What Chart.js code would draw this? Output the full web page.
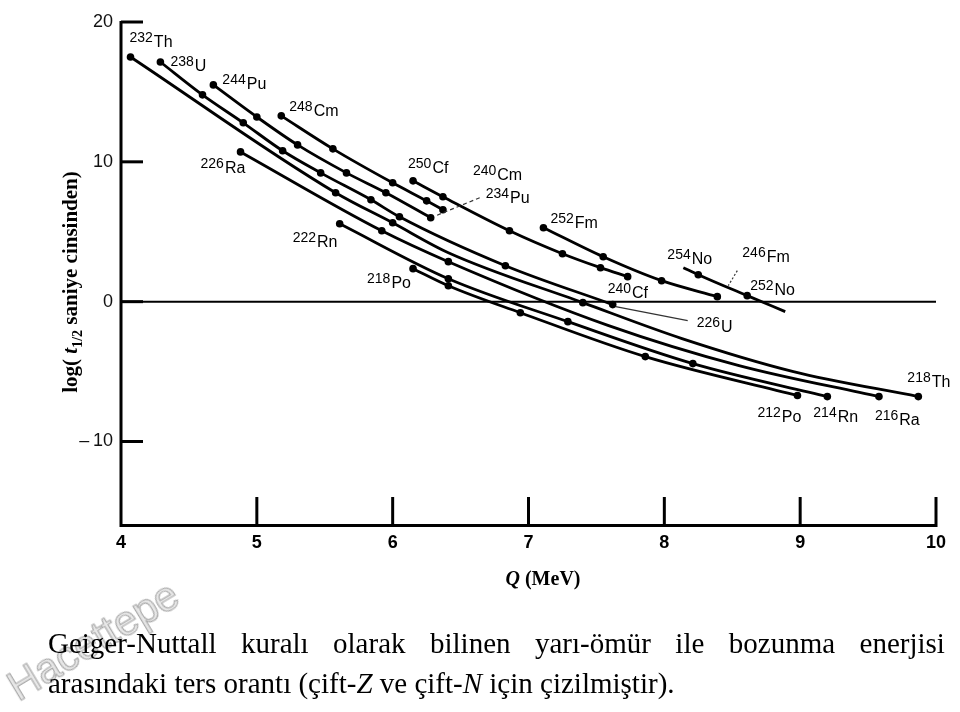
<!DOCTYPE html>
<html><head><meta charset="utf-8">
<script src="https://cdn.jsdelivr.net/npm/chart.js@4.4.0/dist/chart.umd.min.js"></script>
<style>
html,body{margin:0;padding:0;background:#fff;}
#wrap{position:relative;width:960px;height:712px;overflow:hidden;background:#fff;}
#c{position:absolute;left:0;top:0;}
#wm{position:absolute;left:22px;top:666px;font-family:"Liberation Sans",Arial,sans-serif;font-size:42px;line-height:42px;color:#e8e8e8;-webkit-text-stroke:1.2px #aaaaaa;transform:rotate(-31deg);transform-origin:0 100%;white-space:nowrap;}
.cap{position:absolute;left:48px;width:897px;font-family:"Liberation Serif","Times New Roman",serif;font-size:29px;line-height:29px;color:#000;white-space:nowrap;}
#l1{display:flex;justify-content:space-between;}
</style></head><body>
<div id="wrap">
<canvas id="c" width="960" height="600"></canvas>
<div id="wm">Hacettepe</div>
<div class="cap" id="l1" style="top:629px;"></div>
<div class="cap" id="l2" style="top:669px;">arasındaki ters orantı (çift-<i>Z</i> ve çift-<i>N</i> için çizilmiştir).</div>
</div>
<script>
// ---- data (Q in MeV, log10 of half-life in seconds) ----
const thQ   = [4.07, 5.58, 6.00, 6.41, 7.40, 8.13, 8.95, 9.87];
const thLog = [17.5, 7.79, 5.64, 3.5, -0.07, -2.64, -5.0, -6.79];
const uQ    = [4.29, 4.60, 4.90, 5.19, 5.47, 5.84, 6.05, 6.83, 7.62];
const uLog  = [17.14, 14.79, 12.79, 10.79, 9.21, 7.29, 6.07, 2.57, -0.21];
const puQ   = [4.68, 5.00, 5.30, 5.66, 5.95, 6.28];
const puLog = [15.5, 13.21, 11.21, 9.21, 7.79, 6.0];
const cmQ   = [5.18, 5.56, 6.00, 6.25, 6.37];
const cmLog = [13.29, 10.93, 8.5, 7.21, 6.57];
const cfQ   = [6.15, 6.37, 6.86, 7.25, 7.53, 7.73];
const cfLog = [8.64, 7.5, 5.07, 3.43, 2.43, 1.79];
const fmQ   = [7.11, 7.55, 7.98, 8.39];
const fmLog = [5.29, 3.21, 1.5, 0.36];
const noQ   = [8.14, 8.25, 8.61, 8.89];
const noLog = [2.43, 1.93, 0.43, -0.71];
const raQ   = [4.88, 5.92, 6.41, 7.59, 8.55, 9.58];
const raLog = [10.71, 5.07, 2.86, -1.71, -4.57, -6.79];
const rnQ   = [5.61, 6.41, 7.29, 8.21, 9.20];
const rnLog = [5.57, 1.64, -1.43, -4.43, -6.79];
const poQ   = [6.15, 6.41, 6.94, 7.86, 8.98];
const poLog = [2.36, 1.14, -0.79, -3.93, -6.71];

const xTicks = [4, 5, 6, 7, 8, 9, 10];
const yTicks = [-10, 0, 10, 20];

const caption1 = ["Geiger-Nuttall","kuralı","olarak","bilinen","yarı-ömür","ile","bozunma","enerjisi"];

// ---- styles / layout (not data) ----
const seriesList = [
  ['Th', thQ, thLog], ['U', uQ, uLog], ['Pu', puQ, puLog], ['Cm', cmQ, cmLog],
  ['Cf', cfQ, cfLog], ['Fm', fmQ, fmLog], ['No', noQ, noLog], ['Ra', raQ, raLog],
  ['Rn', rnQ, rnLog], ['Po', poQ, poLog]
];
const undotted = { Th: [3, 5, 6], No: [0, 3], Ra: [3, 4] };

const isoLabels = [
  {s:'Th', i:0,  mass:'232', sym:'Th', dx:-1,  dy:-10},
  {s:'U',  i:0,  mass:'238', sym:'U',  dx:10,  dy:9},
  {s:'Pu', i:0,  mass:'244', sym:'Pu', dx:9,   dy:4},
  {s:'Cm', i:0,  mass:'248', sym:'Cm', dx:8,   dy:0},
  {s:'Ra', i:0,  mass:'226', sym:'Ra', dx:-40, dy:21},
  {s:'Cf', i:0,  mass:'250', sym:'Cf', dx:-5,  dy:-8},
  {s:'Cm', i:-1, mass:'240', sym:'Cm', dx:30,  dy:-30},
  {s:'Pu', i:-1, mass:'234', sym:'Pu', dx:55,  dy:-15, ptr:[[49,-20],[5,-2]], dash:[4,3]},
  {s:'Rn', i:0,  mass:'222', sym:'Rn', dx:-47, dy:23},
  {s:'Po', i:0,  mass:'218', sym:'Po', dx:-46, dy:19},
  {s:'Fm', i:0,  mass:'252', sym:'Fm', dx:7,   dy:0},
  {s:'No', i:0,  mass:'254', sym:'No', dx:-16, dy:-4},
  {s:'Fm', i:-1, mass:'246', sym:'Fm', dx:25,  dy:-35, ptr:[[20,-26],[11,-11]], dash:[2,2]},
  {s:'No', i:2,  mass:'252', sym:'No', dx:3,   dy:-1},
  {s:'Cf', i:-1, mass:'240', sym:'Cf', dx:-20, dy:21},
  {s:'U',  i:-1, mass:'226', sym:'U',  dx:84,  dy:27, ptr:[[75,16],[3,2]], dash:[]},
  {s:'Th', i:-1, mass:'218', sym:'Th', dx:-11, dy:-10},
  {s:'Po', i:-1, mass:'212', sym:'Po', dx:-40, dy:27},
  {s:'Rn', i:-1, mass:'214', sym:'Rn', dx:-14, dy:25},
  {s:'Ra', i:-1, mass:'216', sym:'Ra', dx:-4,  dy:28}
];

// caption line 1 (justified words)
const l1 = document.getElementById('l1');
caption1.forEach(w => { const sp = document.createElement('span'); sp.textContent = w; l1.appendChild(sp); });

const datasets = seriesList.map(([name, qs, ls]) => ({
  label: name,
  data: qs.map((q, k) => ({x: q, y: ls[k]})),
  showLine: true,
  borderColor: '#000',
  borderWidth: 2.8,
  backgroundColor: '#000',
  pointBackgroundColor: '#000',
  pointBorderWidth: 0,
  pointRadius: ctx => (undotted[name] || []).includes(ctx.dataIndex) ? 0 : 3.8,
  cubicInterpolationMode: 'monotone',
  clip: false
}));

const frame = {
  id: 'frame',
  beforeDatasetsDraw(chart) {
    const {ctx, chartArea: a, scales: {x, y}} = chart;
    ctx.save();
    ctx.strokeStyle = '#000';
    ctx.lineCap = 'butt';
    ctx.lineWidth = 2;
    const y0 = y.getPixelForValue(0);
    ctx.beginPath(); ctx.moveTo(a.left, y0); ctx.lineTo(a.right, y0); ctx.stroke();
    ctx.lineWidth = 3;
    ctx.beginPath();
    ctx.moveTo(a.left, y.getPixelForValue(20) - 1);
    ctx.lineTo(a.left, a.bottom + 1.5);
    ctx.lineTo(a.right + 1.5, a.bottom + 1.5);
    ctx.stroke();
    yTicks.forEach(v => {
      const py = y.getPixelForValue(v);
      ctx.beginPath(); ctx.moveTo(a.left, py); ctx.lineTo(a.left + 22, py); ctx.stroke();
    });
    xTicks.slice(1).forEach(v => {
      const px = x.getPixelForValue(v);
      ctx.beginPath(); ctx.moveTo(px, a.bottom); ctx.lineTo(px, a.bottom - 27); ctx.stroke();
    });
    ctx.restore();
  },
  afterDatasetsDraw(chart) {
    const {ctx} = chart;
    const idx = Object.fromEntries(seriesList.map((s, k) => [s[0], k]));
    ctx.save();
    ctx.fillStyle = '#000';
    ctx.textBaseline = 'alphabetic';
    isoLabels.forEach(l => {
      const meta = chart.getDatasetMeta(idx[l.s]);
      const pts = meta.data;
      const p = pts[l.i < 0 ? pts.length + l.i : l.i];
      const bx = p.x + l.dx, by = p.y + l.dy;
      ctx.font = '14px "Liberation Sans", Arial, sans-serif';
      ctx.fillText(l.mass, bx, by - 5);
      const w = ctx.measureText(l.mass).width;
      ctx.font = '16px "Liberation Sans", Arial, sans-serif';
      ctx.fillText(l.sym, bx + w + 1, by);
      if (l.ptr) {
        ctx.save();
        ctx.strokeStyle = '#333';
        ctx.lineWidth = 1.2;
        ctx.setLineDash(l.dash);
        ctx.beginPath();
        ctx.moveTo(p.x + l.ptr[0][0], p.y + l.ptr[0][1]);
        ctx.lineTo(p.x + l.ptr[1][0], p.y + l.ptr[1][1]);
        ctx.stroke();
        ctx.restore();
      }
    });
    // x title
    ctx.font = 'italic bold 20px "Liberation Serif", "Times New Roman", serif';
    const wq = ctx.measureText('Q').width;
    ctx.font = 'bold 20px "Liberation Serif", "Times New Roman", serif';
    const rest = ' (MeV)';
    const wr = ctx.measureText(rest).width;
    const sx = 543 - (wq + wr) / 2, baseX = 585;
    ctx.font = 'italic bold 20px "Liberation Serif", "Times New Roman", serif';
    ctx.fillText('Q', sx, baseX);
    ctx.font = 'bold 20px "Liberation Serif", "Times New Roman", serif';
    ctx.fillText(rest, sx + wq, baseX);
    // y title (rotated)
    ctx.save();
    ctx.translate(77, 282);
    ctx.rotate(-Math.PI / 2);
    const parts = [
      {t: 'log( ', f: 'bold 21px "Liberation Serif", serif', dy: 0},
      {t: 't', f: 'italic bold 21px "Liberation Serif", serif', dy: 0},
      {t: '1/2', f: 'bold 14px "Liberation Serif", serif', dy: 5},
      {t: ' saniye cinsinden)', f: 'bold 21px "Liberation Serif", serif', dy: 0}
    ];
    let tot = 0;
    parts.forEach(pp => { ctx.font = pp.f; pp.w = ctx.measureText(pp.t).width; tot += pp.w; });
    let ox = -tot / 2;
    parts.forEach(pp => { ctx.font = pp.f; ctx.fillText(pp.t, ox, pp.dy); ox += pp.w; });
    ctx.restore();
    ctx.restore();
  }
};

new Chart(document.getElementById('c'), {
  type: 'scatter',
  data: { datasets },
  options: {
    responsive: false,
    animation: false,
    devicePixelRatio: 1,
    layout: { padding: { left: 0, right: 24, top: 22, bottom: 0 } },
    plugins: { legend: { display: false }, tooltip: { enabled: false } },
    scales: {
      x: {
        type: 'linear', min: 4, max: 10,
        afterFit(s) { s.height = 76; },
        afterBuildTicks(s) { s.ticks = xTicks.map(v => ({value: v})); },
        border: { display: false },
        grid: { display: false, drawTicks: false },
        ticks: { color: '#000', padding: 8, font: { family: '"Liberation Sans", Arial, sans-serif', size: 18, weight: 'bold' } }
      },
      y: {
        type: 'linear', min: -15.9, max: 20,
        afterFit(s) { s.width = 121; },
        afterBuildTicks(s) { s.ticks = yTicks.map(v => ({value: v})); },
        border: { display: false },
        grid: { display: false, drawTicks: false },
        ticks: {
          color: '#111', padding: 8,
          font: { family: '"Liberation Sans", Arial, sans-serif', size: 18 },
          callback: v => v < 0 ? '\u2013\u2009' + Math.abs(v) : String(v)
        }
      }
    }
  },
  plugins: [frame]
});
</script>
</body></html>
